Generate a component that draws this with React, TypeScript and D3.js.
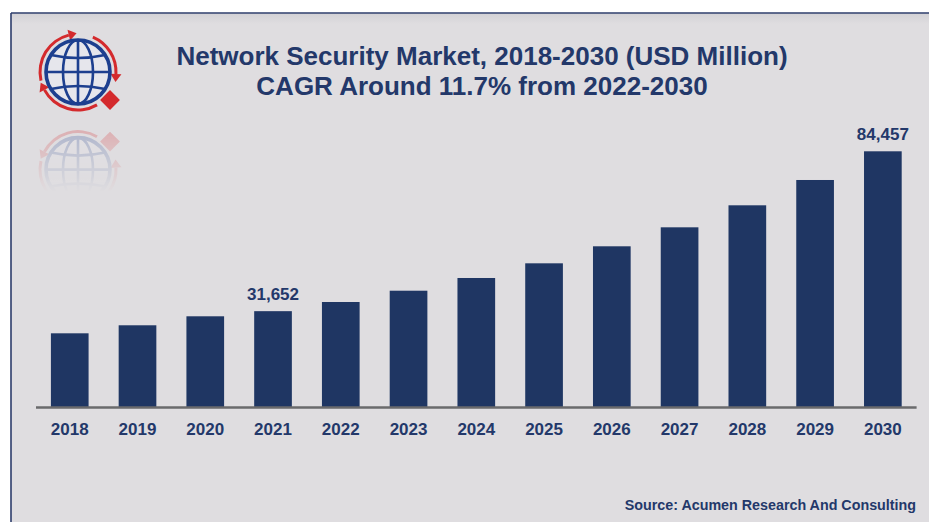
import React, { useEffect, useRef } from 'react';
import * as d3 from 'd3';

const years = ['2018', '2019', '2020', '2021', '2022', '2023', '2024', '2025', '2026', '2027', '2028', '2029', '2030'];
const marketSize = [24340, 26990, 29960, 31652, 34680, 38410, 42610, 47460, 53080, 59350, 66620, 74980, 84457];
const labeledYears = ['2021', '2030'];
const titleLines = ['Network Security Market, 2018-2030 (USD Million)', 'CAGR Around 11.7% from 2022-2030'];
const sourceNote = 'Source: Acumen Research And Consulting';

const W = 929;
const H = 522;
const NAVY = '#1f3663';
const TEXT = '#23386a';
const RED = '#d42a2d';
const GLOBE = '#1d3f8f';

function drawLogo(g: d3.Selection<SVGGElement, unknown, null, undefined>) {
  const r = 32;
  const deg = Math.PI / 180;

  // red rotating arrows
  const ring = d3.arc<{ a0: number; a1: number }>()
    .innerRadius(36.5)
    .outerRadius(39.5)
    .startAngle(d => d.a0 * deg)
    .endAngle(d => d.a1 * deg);
  const arcs = [
    { a0: -103, a1: -14 },
    { a0: 23, a1: 93 },
    { a0: 150, a1: 242 },
  ];
  arcs.forEach(a => {
    g.append('path').attr('d', ring(a) as string).attr('fill', RED);
    const t = a.a1 * deg;
    const px = (rr: number) => Math.sin(t) * rr;
    const py = (rr: number) => -Math.cos(t) * rr;
    // tangent direction (clockwise)
    const tx = Math.cos(t);
    const ty = Math.sin(t);
    const tip = [px(38) + tx * 8, py(38) + ty * 8];
    g.append('path')
      .attr('d', `M${px(32.5)},${py(32.5)} L${px(43.5)},${py(43.5)} L${tip[0]},${tip[1]} Z`)
      .attr('fill', RED);
  });

  // globe
  g.append('circle').attr('r', r).attr('fill', '#e6e6ec').attr('stroke', GLOBE).attr('stroke-width', 3.6);
  g.append('ellipse').attr('rx', 15).attr('ry', r).attr('fill', 'none').attr('stroke', GLOBE).attr('stroke-width', 2.6);
  g.append('line').attr('x1', 0).attr('x2', 0).attr('y1', -r).attr('y2', r).attr('stroke', GLOBE).attr('stroke-width', 2.6);
  g.append('line').attr('x1', -r).attr('x2', r).attr('y1', 0).attr('y2', 0).attr('stroke', GLOBE).attr('stroke-width', 2.6);
  [-17, 17].forEach(h => {
    const hw = Math.sqrt(r * r - h * h);
    g.append('path')
      .attr('d', `M${-hw},${h} Q0,${h - Math.sign(h) * 6} ${hw},${h}`)
      .attr('fill', 'none').attr('stroke', GLOBE).attr('stroke-width', 2.6);
  });

  // diamond
  g.append('rect')
    .attr('x', -7).attr('y', -7).attr('width', 14).attr('height', 14)
    .attr('transform', 'translate(32,28) rotate(45)')
    .attr('fill', RED);
}

export default function App() {
  const svgRef = useRef<SVGSVGElement>(null);

  useEffect(() => {
    if (!svgRef.current) return;
    const svg = d3.select(svgRef.current);
    svg.selectAll('*').remove();

    const defs = svg.append('defs');
    const fade = defs.append('linearGradient').attr('id', 'fade')
      .attr('gradientUnits', 'userSpaceOnUse').attr('x1', 0).attr('x2', 0).attr('y1', 125).attr('y2', 192);
    fade.append('stop').attr('offset', 0).attr('stop-color', '#fff').attr('stop-opacity', 1);
    fade.append('stop').attr('offset', 1).attr('stop-color', '#fff').attr('stop-opacity', 0);
    defs.append('mask').attr('id', 'reflMask').attr('maskUnits', 'userSpaceOnUse')
      .attr('x', 0).attr('y', 0).attr('width', W).attr('height', H)
      .append('rect').attr('x', 0).attr('y', 120).attr('width', 200).attr('height', 80).attr('fill', 'url(#fade)');
    const topShade = defs.append('linearGradient').attr('id', 'topShade').attr('x1', 0).attr('x2', 0).attr('y1', 0).attr('y2', 1);
    topShade.append('stop').attr('offset', 0).attr('stop-color', '#d3d2d6');
    topShade.append('stop').attr('offset', 1).attr('stop-color', '#dfdde0');

    // page + panel
    svg.append('rect').attr('width', W).attr('height', H).attr('fill', '#ffffff');
    svg.append('rect').attr('x', 11).attr('y', 13).attr('width', W).attr('height', H).attr('fill', '#dfdde0');
    svg.append('rect').attr('x', 12).attr('y', 14).attr('width', W).attr('height', 10).attr('fill', 'url(#topShade)');
    svg.append('line').attr('x1', 11).attr('x2', W).attr('y1', 13).attr('y2', 13).attr('stroke', '#2c3d6b').attr('stroke-width', 1.6);
    svg.append('line').attr('x1', 11).attr('x2', 11).attr('y1', 13).attr('y2', H).attr('stroke', '#2c3d6b').attr('stroke-width', 1.6);

    // logo + reflection
    drawLogo(svg.append('g').attr('transform', 'translate(78,72)'));
    const refl = svg.append('g').attr('mask', 'url(#reflMask)').attr('opacity', 0.27);
    drawLogo(refl.append('g').attr('transform', 'translate(0,241.6) scale(1,-1) translate(78,72)'));

    // title
    svg.append('text')
      .attr('x', 482).attr('y', 65)
      .attr('text-anchor', 'middle')
      .attr('font-family', '"Liberation Sans", Arial, sans-serif')
      .attr('font-weight', 'bold').attr('font-size', 26).attr('fill', TEXT)
      .text(titleLines[0]);
    svg.append('text')
      .attr('x', 482).attr('y', 95)
      .attr('text-anchor', 'middle')
      .attr('font-family', '"Liberation Sans", Arial, sans-serif')
      .attr('font-weight', 'bold').attr('font-size', 26).attr('fill', TEXT)
      .text(titleLines[1]);

    // scales
    const x = d3.scaleBand<string>()
      .domain(years)
      .range([36, 916.6])
      .paddingInner(0.444)
      .paddingOuter(0.22);

    const y = d3.scaleLinear()
      .domain([0, d3.max(marketSize) as number])
      .range([407, 151.3]);

    // bars
    svg.append('g')
      .selectAll('rect')
      .data(years)
      .join('rect')
      .attr('x', d => x(d) as number)
      .attr('y', (d, i) => y(marketSize[i]))
      .attr('width', x.bandwidth())
      .attr('height', (d, i) => y(0) - y(marketSize[i]))
      .attr('fill', NAVY);

    // baseline
    svg.append('line')
      .attr('x1', 36).attr('x2', 916.6)
      .attr('y1', y(0) + 0.5).attr('y2', y(0) + 0.5)
      .attr('stroke', '#6a6a6c').attr('stroke-width', 2.4);

    // year labels
    svg.append('g')
      .selectAll('text')
      .data(years)
      .join('text')
      .attr('x', d => (x(d) as number) + x.bandwidth() / 2)
      .attr('y', 435)
      .attr('text-anchor', 'middle')
      .attr('font-family', '"Liberation Sans", Arial, sans-serif')
      .attr('font-weight', 'bold').attr('font-size', 17).attr('fill', TEXT)
      .text(d => d);

    // value labels
    const fmt = d3.format(',');
    svg.append('g')
      .selectAll('text')
      .data(labeledYears)
      .join('text')
      .attr('x', d => (x(d) as number) + x.bandwidth() / 2)
      .attr('y', d => y(marketSize[years.indexOf(d)]) - 11)
      .attr('text-anchor', 'middle')
      .attr('font-family', '"Liberation Sans", Arial, sans-serif')
      .attr('font-weight', 'bold').attr('font-size', 17).attr('fill', TEXT)
      .text(d => fmt(marketSize[years.indexOf(d)]));

    // source
    svg.append('text')
      .attr('x', 916).attr('y', 510)
      .attr('text-anchor', 'end')
      .attr('font-family', '"Liberation Sans", Arial, sans-serif')
      .attr('font-weight', 'bold').attr('font-size', 14.3).attr('fill', TEXT)
      .text(sourceNote);
  }, []);

  return (
    <svg
      ref={svgRef}
      width={W}
      height={H}
      style={{ position: 'absolute', left: 0, top: 0, display: 'block' }}
    />
  );
}
